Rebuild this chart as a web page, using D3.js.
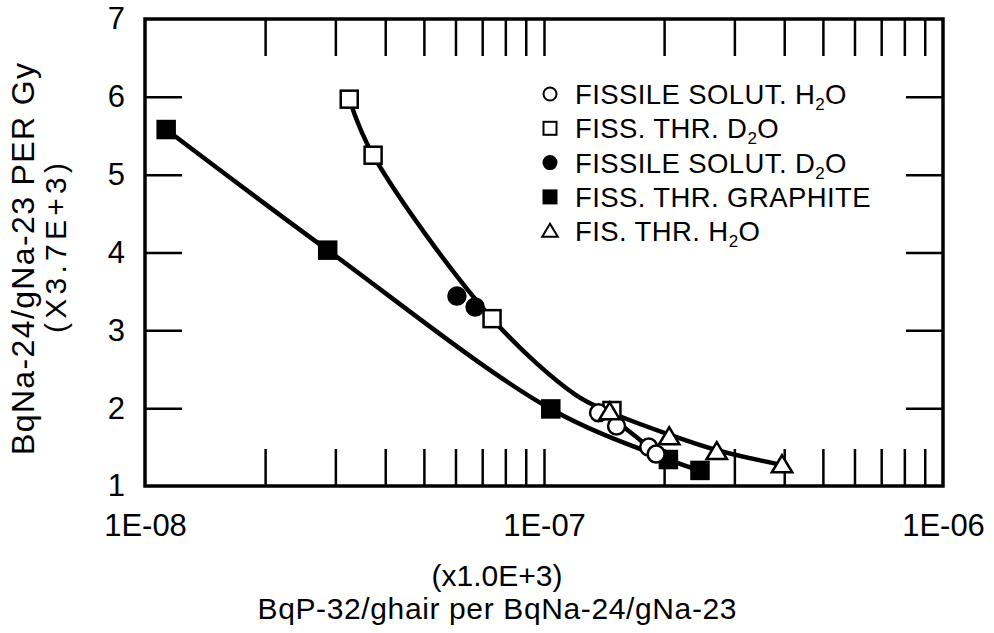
<!DOCTYPE html>
<html><head><meta charset="utf-8">
<script src="https://cdn.jsdelivr.net/npm/d3@7"></script>
<style>
html,body{margin:0;padding:0;background:#fff;}
svg{display:block;font-family:"Liberation Sans",Arial,Helvetica,sans-serif;}
</style></head>
<body><svg id="c" width="994" height="633"></svg>
<script>
// ---- data ----
const fissSolutH2O_x = [1.37e-7, 1.52e-7, 1.83e-7, 1.91e-7];
const fissSolutH2O_y = [1.94, 1.77, 1.50, 1.41];
const fissThrD2O_x = [3.25e-8, 3.73e-8, 7.41e-8, 1.48e-7];
const fissThrD2O_y = [5.97, 5.25, 3.15, 1.97];
const fissSolutD2O_x = [6.05e-8, 6.72e-8];
const fissSolutD2O_y = [3.44, 3.30];
const graphite_x = [1.13e-8, 2.87e-8, 1.04e-7, 2.05e-7, 2.46e-7];
const graphite_y = [5.58, 4.03, 1.99, 1.34, 1.20];
const fisThrH2O_x = [1.46e-7, 2.06e-7, 2.71e-7, 3.95e-7];
const fisThrH2O_y = [1.95, 1.63, 1.44, 1.27];
// fitted curves drawn by the authors
const curveUpper_x = [3.25e-8, 3.73e-8, 7.41e-8, 1.2e-7, 1.46e-7, 2.06e-7, 2.71e-7, 3.95e-7];
const curveUpper_y = [5.97, 5.25, 3.15, 2.17, 1.95, 1.66, 1.46, 1.27];
const curveBranch_x = [1.46e-7, 1.83e-7, 1.91e-7];
const curveBranch_y = [1.90, 1.50, 1.41];
const yTicks = [1, 2, 3, 4, 5, 6, 7];
const xMajor = [1e-8, 1e-7, 1e-6];
const xMajorLabels = ["1E-08", "1E-07", "1E-06"];
const legendLabels = [
  ["FISSILE SOLUT. H", "2", "O"],
  ["FISS. THR. D", "2", "O"],
  ["FISSILE SOLUT. D", "2", "O"],
  ["FISS. THR. GRAPHITE", "", ""],
  ["FIS. THR. H", "2", "O"]
];
const yTitle1 = "BqNa-24/gNa-23 PER Gy";
const yTitle2 = "(X3.7E+3)";
const xTitle1 = "(x1.0E+3)";
const xTitle2 = "BqP-32/ghair per BqNa-24/gNa-23";

// ---- layout ----
const L = 145, R = 943, T = 19, B = 486;
const svg = d3.select("#c");
const x = d3.scaleLog().domain([1e-8, 1e-6]).range([L, R]);
const y = d3.scaleLinear().domain([1, 7]).range([B, T]);
const zip = (a, b) => a.map((v, i) => [v, b[i]]);

// minor ticks
const minor = [];
[1e-8, 1e-7].forEach(d => { for (let k = 2; k <= 10; k++) minor.push(+(d * k).toPrecision(3)); });
minor.pop(); // drop 1e-6 (frame edge)

const tl = 37;
const axB = d3.axisBottom(x).tickValues(minor).tickSizeInner(-tl).tickSizeOuter(0).tickFormat("");
const axT = d3.axisTop(x).tickValues(minor).tickSizeInner(-tl).tickSizeOuter(0).tickFormat("");
const axL = d3.axisLeft(y).tickValues([2, 3, 4, 5, 6]).tickSizeInner(-tl).tickSizeOuter(0).tickFormat("");
const axR = d3.axisRight(y).tickValues([2, 3, 4, 5, 6]).tickSizeInner(-tl).tickSizeOuter(0).tickFormat("");
function styleAx(g) { g.select(".domain").remove(); g.selectAll(".tick line").attr("stroke", "#000").attr("stroke-width", 2.5); }
svg.append("g").attr("transform", `translate(0,${B})`).call(axB).call(styleAx);
svg.append("g").attr("transform", `translate(0,${T})`).call(axT).call(styleAx);
svg.append("g").attr("transform", `translate(${L},0)`).call(axL).call(styleAx);
svg.append("g").attr("transform", `translate(${R},0)`).call(axR).call(styleAx);

// tick labels
const fs = 31;
const gx = svg.append("g").attr("transform", `translate(0,${B})`)
  .call(d3.axisBottom(x).tickValues(xMajor).tickSize(0).tickPadding(28).tickFormat((d, i) => xMajorLabels[i]));
gx.select(".domain").remove();
gx.selectAll("text").attr("font-size", fs).attr("fill", "#000").attr("font-family", "Liberation Sans, Arial, sans-serif");
const gy = svg.append("g").attr("transform", `translate(${L},0)`)
  .call(d3.axisLeft(y).tickValues(yTicks).tickSize(0).tickPadding(20).tickFormat(d3.format("d")));
gy.select(".domain").remove();
gy.selectAll("text").attr("font-size", fs).attr("fill", "#000").attr("font-family", "Liberation Sans, Arial, sans-serif");

// frame
svg.append("rect").attr("x", L).attr("y", T).attr("width", R - L).attr("height", B - T)
  .attr("fill", "none").attr("stroke", "#000").attr("stroke-width", 3.5);

// curves
const line = d3.line().x(d => x(d[0])).y(d => y(d[1])).curve(d3.curveCatmullRom.alpha(0.5));
const curves = [zip(curveUpper_x, curveUpper_y), zip(graphite_x, graphite_y), zip(curveBranch_x, curveBranch_y)];
svg.append("g").selectAll("path").data(curves).join("path")
  .attr("d", line).attr("fill", "none").attr("stroke", "#000").attr("stroke-width", 4.5)
  .attr("stroke-linejoin", "round");

// markers
function marker(g, type, s, sw) {
  if (type === "circleOpen" || type === "circleFilled") {
    g.append("circle").attr("r", s / 2).attr("fill", type === "circleFilled" ? "#000" : "#fff")
      .attr("stroke", "#000").attr("stroke-width", sw);
  } else if (type === "squareOpen" || type === "squareFilled") {
    g.append("rect").attr("x", -s / 2).attr("y", -s / 2).attr("width", s).attr("height", s)
      .attr("fill", type === "squareFilled" ? "#000" : "#fff").attr("stroke", "#000").attr("stroke-width", sw);
  } else {
    const h = s * 0.95;
    g.append("path").attr("d", `M0,${-h * 0.6}L${s * 0.6},${h * 0.45}L${-s * 0.6},${h * 0.45}Z`)
      .attr("fill", "#fff").attr("stroke", "#000").attr("stroke-width", sw).attr("stroke-linejoin", "miter");
  }
}
const series = [
  { t: "squareOpen", d: zip(fissThrD2O_x, fissThrD2O_y) },
  { t: "circleFilled", d: zip(fissSolutD2O_x, fissSolutD2O_y) },
  { t: "squareFilled", d: zip(graphite_x, graphite_y) },
  { t: "circleOpen", d: zip(fissSolutH2O_x, fissSolutH2O_y) },
  { t: "triangle", d: zip(fisThrH2O_x, fisThrH2O_y) }
];
series.forEach(s => {
  s.d.forEach(p => {
    const g = svg.append("g").attr("transform", `translate(${x(p[0])},${y(p[1])})`);
    marker(g, s.t, 17, 2.5);
  });
});

// legend
const legTypes = ["circleOpen", "squareOpen", "circleFilled", "squareFilled", "triangle"];
const legY0 = 94, legDy = 34.3, lfs = 27.5;
legTypes.forEach((t, i) => {
  const cy = legY0 + i * legDy;
  const g = svg.append("g").attr("transform", `translate(550,${cy})`);
  marker(g, t, 13, 2);
  const tx = svg.append("text").attr("x", 575).attr("y", cy + 10).attr("font-size", lfs).attr("fill", "#000")
    .attr("letter-spacing", 0.4);
  const lab = legendLabels[i];
  tx.append("tspan").text(lab[0]);
  if (lab[1]) {
    tx.append("tspan").text(lab[1]).attr("font-size", 17).attr("dy", 6);
    tx.append("tspan").text(lab[2]).attr("dy", -6);
  }
});

// titles
svg.append("text").attr("transform", "translate(34,259) rotate(-90)").attr("text-anchor", "middle")
  .attr("font-size", 32).attr("textLength", 392).attr("lengthAdjust", "spacing").text(yTitle1);
svg.append("text").attr("transform", "translate(66,248) rotate(-90)").attr("text-anchor", "middle")
  .attr("font-size", 30).attr("textLength", 170).attr("lengthAdjust", "spacing").text(yTitle2);
svg.append("text").attr("x", 497).attr("y", 586).attr("text-anchor", "middle").attr("font-size", 30).text(xTitle1);
svg.append("text").attr("x", 497).attr("y", 619).attr("text-anchor", "middle").attr("font-size", 30)
  .attr("textLength", 479).attr("lengthAdjust", "spacing").text(xTitle2);
</script></body></html>
